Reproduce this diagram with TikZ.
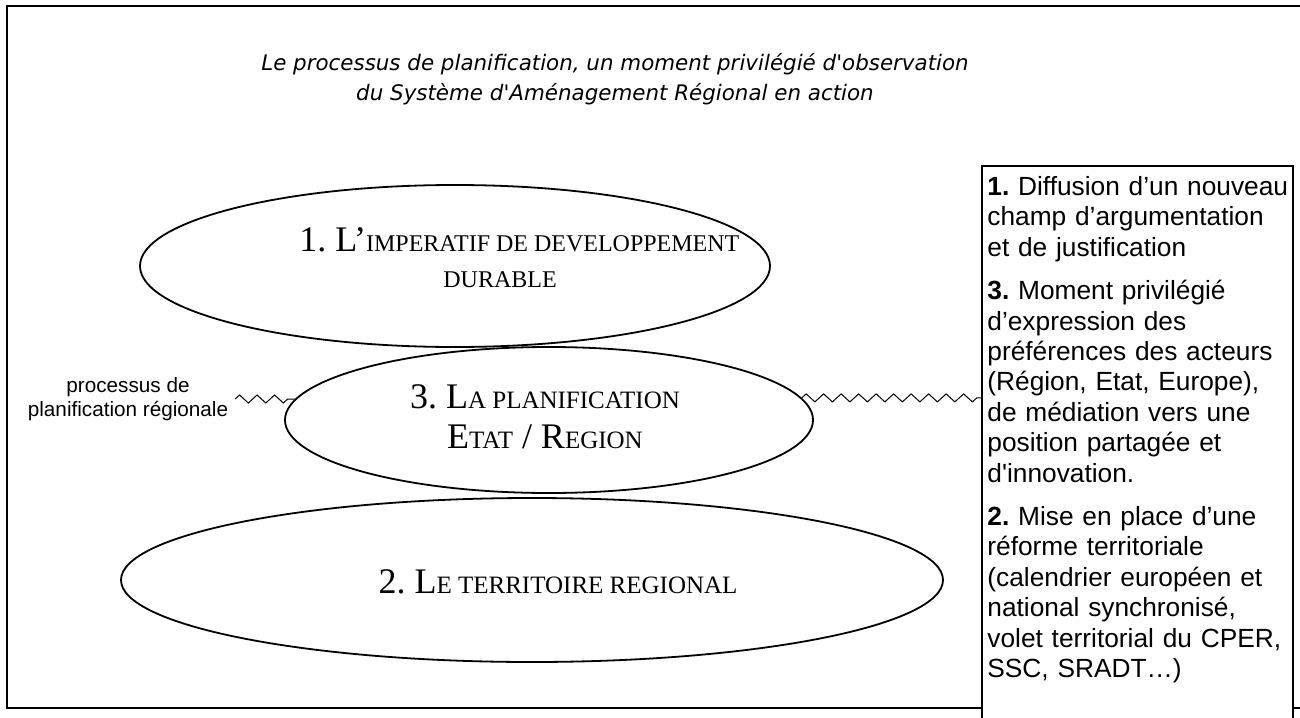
\documentclass[tikz,border=0pt]{standalone}
\usepackage{fontspec}
\setmainfont{Liberation Serif}
\newfontfamily\arial{Liberation Sans}
\newfontfamily\verdana{DejaVu Sans}
\usetikzlibrary{shapes.geometric,decorations.pathmorphing,calc}
\newcommand\petitcap[2][12.5]{{\fontsize{#1}{14}\selectfont #2}}
\frenchspacing

\begin{document}
\begin{tikzpicture}[x=0.5pt,y=-0.5pt,
  bulle/.style={ellipse,draw,line width=0.9pt,inner sep=0pt},
  titrebulle/.style={align=center,font=\fontsize{18}{18}\selectfont},
  dentele/.style={decorate,decoration={zigzag,segment length=8.75pt,amplitude=2pt},line width=0.5pt},
  ]
\useasboundingbox (0,0) rectangle (1300,717);
\clip (0,0) rectangle (1300,717);
% cadre general
\draw[line width=1pt] (7,6) rectangle (1330,708);
\node[align=center,font=\verdana\itshape\fontsize{10.7}{15}\selectfont] (titre) at (615,79)
  {Le processus de planification, un moment privilégié d'observation\\du Système d'Aménagement Régional en action};

% les trois bulles
\node[bulle,minimum width=315pt,minimum height=81pt] (e1) at (455,266) {};
\node[bulle,minimum width=264pt,minimum height=73pt] (e3) at (549,420) {};
\node[bulle,minimum width=411pt,minimum height=82pt] (e2) at (532,580) {};
\node[titrebulle,align=left,anchor=west,inner sep=0pt] (t1) at (299,258) {1. L’\petitcap[12]{IMPERATIF DE DEVELOPPEMENT}\\\hspace*{72pt}\petitcap[12]{DURABLE}};
\node[titrebulle,font=\fontsize{18}{20}\selectfont] (t3) at (545,417) {3. L\petitcap{A PLANIFICATION}\\E\petitcap{TAT} / R\petitcap{EGION}};
\node[titrebulle] (t2) at (558,582) {2. L\petitcap{E TERRITOIRE REGIONAL}};

% processus
\node[align=center,font=\arial\fontsize{10.35}{11.9}\selectfont] (proc) at (128,399)
  {processus de\\planification régionale};

% encadre de droite
\node[draw,fill=white,line width=0.75pt,anchor=north west,minimum width=155.5pt,minimum height=290pt,inner sep=0pt] (cadre) at (981,165) {};
\node[anchor=north west,text width=160pt,inner xsep=3pt,inner ysep=5.5pt,align=left,font=\arial\fontsize{13.15}{15.2}\selectfont] (constats) at (cadre.north west)
  {\textbf{1.} Diffusion d’un nouveau\\champ d’argumentation\\et de justification\\[6.5pt]
   \textbf{3.} Moment privilégié\\d’expression des\\préférences des acteurs\\(Région, Etat, Europe),\\de médiation vers une\\position partagée et\\d'innovation.\\[6.5pt]
   \textbf{2.} Mise en place d’une\\réforme territoriale\\(calendrier européen et\\national synchronisé,\\volet territorial du CPER,\\SSC, SRADT…)};

\draw[dentele] (proc.east) -- (proc.east -| e3.175);
\draw[dentele] (e3.5) -- (e3.5 -| cadre.west);
\end{tikzpicture}
\end{document}
